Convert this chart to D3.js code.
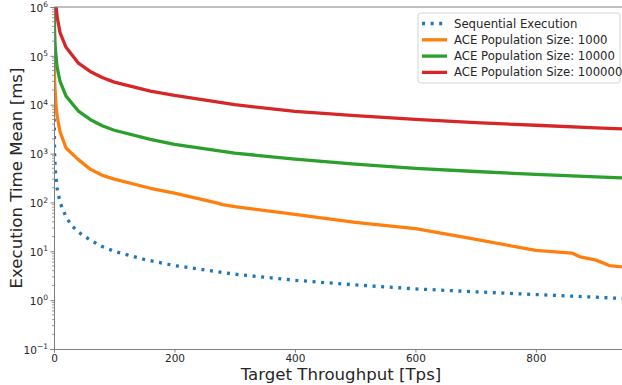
<!DOCTYPE html>
<html>
<head>
<meta charset="utf-8">
<script src="https://cdn.jsdelivr.net/npm/d3@7"></script>
<style>
  body { margin: 0; background: #fff; }
  text { font-family: 'DejaVu Sans', sans-serif; fill: #262626; }
</style>
</head>
<body>
<svg id="chart" width="622" height="385"></svg>
<script>
// series (x in Tps, y in ms)
const seqX = [0.001, 0.01, 0.1, 1, 2, 5, 10, 20, 30, 40, 60, 80, 100, 150, 200, 300, 400, 500, 600, 700, 800, 900, 943];
const seqY = [1e6, 1e5, 1e4, 1000, 500, 200, 100, 50, 33, 25, 17, 12.5, 10, 6.8, 5.1, 3.4, 2.55, 2.05, 1.7, 1.48, 1.3, 1.15, 1.08];

const ace1kX = [0.03, 0.3, 1, 3, 5, 10, 20, 40, 60, 80, 100, 160, 200, 270, 280, 300, 400, 500, 600, 680, 800, 860, 872, 900, 922, 943];
const ace1kY = [1e6, 1e5, 3e4, 1.1e4, 6e3, 2.8e3, 1.3e3, 760, 480, 360, 300, 195, 155, 98, 90, 82, 57, 39, 29, 19.5, 10.4, 9.2, 7.8, 6.6, 5.1, 4.8];

const ace10kX = [0.3, 1, 2, 5, 10, 20, 40, 60, 80, 100, 160, 200, 300, 400, 500, 600, 700, 800, 900, 943];
const ace10kY = [1e6, 3e5, 1.5e5, 6e4, 3e4, 1.5e4, 7.5e3, 5e3, 3.7e3, 3e3, 1.95e3, 1.55e3, 1.02e3, 770, 610, 500, 430, 375, 335, 318];

const ace100kX = [2, 5, 10, 20, 40, 60, 80, 100, 160, 200, 300, 400, 500, 600, 700, 800, 900, 943];
const ace100kY = [1.5e6, 6.5e5, 3e5, 1.5e5, 7.2e4, 4.8e4, 3.6e4, 2.9e4, 1.9e4, 1.55e4, 1.0e4, 7.3e3, 6.0e3, 5.0e3, 4.3e3, 3.8e3, 3.35e3, 3.2e3];

const seriesNames = ['Sequential Execution', 'ACE Population Size: 1000', 'ACE Population Size: 10000', 'ACE Population Size: 100000'];
const xTicks = [0, 200, 400, 600, 800];
const yExponents = [-1, 0, 1, 2, 3, 4, 5, 6];

const series = [
  { name: seriesNames[0], xs: seqX, ys: seqY, color: '#1f77b4', dash: '3,5.6' },
  { name: seriesNames[1], xs: ace1kX, ys: ace1kY, color: '#ff7f0e', dash: null },
  { name: seriesNames[2], xs: ace10kX, ys: ace10kY, color: '#2ca02c', dash: null },
  { name: seriesNames[3], xs: ace100kX, ys: ace100kY, color: '#d62728', dash: null },
];

const svg = d3.select('#chart');
const plot = { left: 54, right: 622, top: 7, bottom: 349 };
const x = d3.scaleLinear().domain([0, 943]).range([plot.left, plot.right]);
const y = d3.scaleLog().domain([1e-1, 1e6]).range([plot.bottom, plot.top]);

svg.append('defs').append('clipPath').attr('id', 'clip')
  .append('rect')
  .attr('x', plot.left).attr('y', plot.top)
  .attr('width', plot.right - plot.left).attr('height', plot.bottom - plot.top);

// lines
const line = d3.line().x(d => x(d[0])).y(d => y(d[1]));
const gLines = svg.append('g').attr('clip-path', 'url(#clip)');
series.forEach((s) => {
  gLines.append('path')
    .datum(d3.zip(s.xs, s.ys))
    .attr('fill', 'none')
    .attr('stroke', s.color)
    .attr('stroke-width', 3.3)
    .attr('stroke-linejoin', 'round')
    .attr('stroke-dasharray', s.dash)
    .attr('d', line);
});

// spines
const spine = '#808080';
svg.append('line').attr('x1', plot.left).attr('x2', plot.right).attr('y1', plot.top).attr('y2', plot.top)
  .attr('stroke', spine).attr('stroke-width', 1);

// x axis
const gx = svg.append('g').attr('transform', `translate(0,${plot.bottom})`)
  .call(d3.axisBottom(x).tickValues(xTicks).tickSize(3.5).tickPadding(2).tickFormat(d3.format('d')));
gx.select('.domain').attr('stroke', spine);
gx.selectAll('.tick line').attr('stroke', spine);
gx.selectAll('.tick text').attr('font-size', 10.5).attr('fill', '#262626').attr('font-family', 'DejaVu Sans');

// y axis with log minor ticks
const minor = [];
for (let e = -1; e < 6; e += 1) {
  for (let m = 2; m < 10; m += 1) minor.push(m * 10 ** e);
}
const gy = svg.append('g').attr('transform', `translate(${plot.left},0)`)
  .call(d3.axisLeft(y).tickValues(yExponents.map(e => 10 ** e)).tickSize(3.5).tickPadding(2).tickFormat(''));
gy.select('.domain').attr('stroke', spine);
gy.selectAll('.tick line').attr('stroke', spine);
gy.selectAll('.minor').data(minor).join('line')
  .attr('class', 'minor')
  .attr('x1', 0).attr('x2', -2)
  .attr('y1', d => y(d)).attr('y2', d => y(d))
  .attr('stroke', spine).attr('stroke-width', 0.8);

gy.selectAll('.tick').each(function (d, i) {
  const e = yExponents[i];
  const t = d3.select(this).append('text')
    .attr('x', -6).attr('dy', '0.4em')
    .attr('text-anchor', 'end')
    .attr('font-size', 10.5);
  t.append('tspan').text('10');
  t.append('tspan').attr('font-size', 7.5).attr('dy', '-0.6em').text(e < 0 ? `\u2212${-e}` : `${e}`);
});

// axis titles
svg.append('text')
  .attr('x', (plot.left + plot.right) / 2 + 3).attr('y', 380)
  .attr('text-anchor', 'middle').attr('font-size', 16.6)
  .text('Target Throughput [Tps]');
svg.append('text')
  .attr('transform', `translate(22,${(plot.top + plot.bottom) / 2}) rotate(-90)`)
  .attr('text-anchor', 'middle').attr('font-size', 16.6)
  .text('Execution Time Mean [ms]');

// legend
const gLeg = svg.append('g').attr('transform', 'translate(418,13)');
gLeg.append('rect')
  .attr('width', 202).attr('height', 70).attr('rx', 3)
  .attr('fill', '#fff').attr('fill-opacity', 0.8)
  .attr('stroke', '#d5d5d5').attr('stroke-width', 1);
series.forEach((s, i) => {
  const yy = 10.5 + i * 16.3;
  gLeg.append('line')
    .attr('x1', 4).attr('x2', 29).attr('y1', yy).attr('y2', yy)
    .attr('stroke', s.color).attr('stroke-width', 3.3)
    .attr('stroke-dasharray', s.dash);
  gLeg.append('text')
    .attr('x', 36).attr('y', yy).attr('dy', '0.35em')
    .attr('font-size', 11.7)
    .text(s.name);
});
</script>
</body>
</html>
